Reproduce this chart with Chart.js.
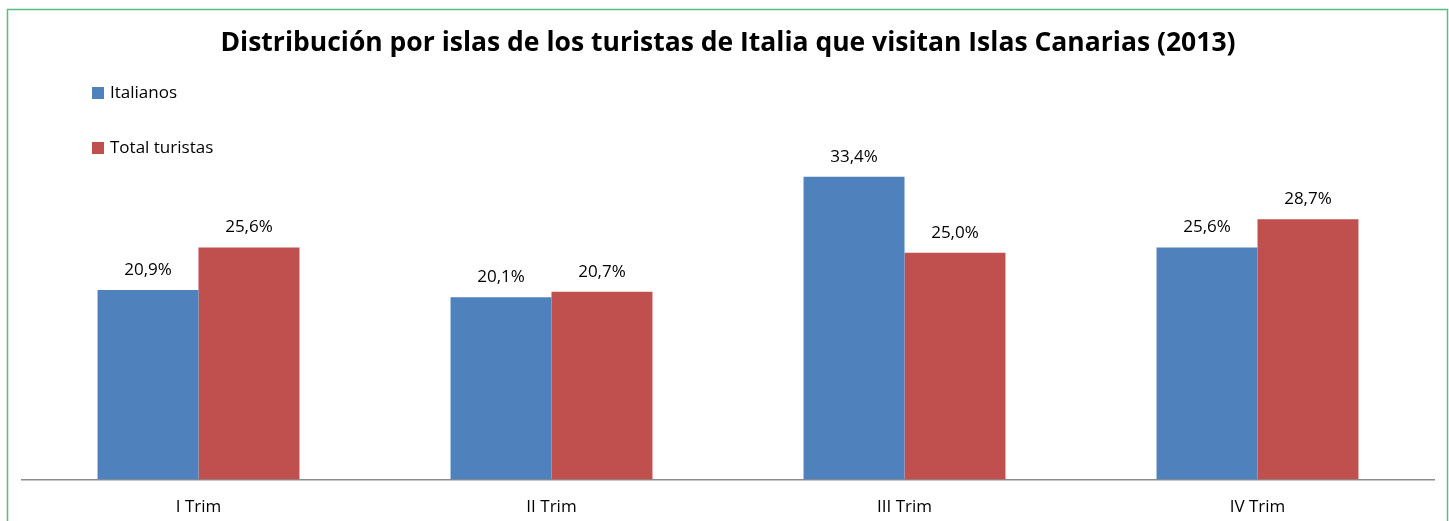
<!DOCTYPE html>
<html>
<head>
<meta charset="utf-8">
<script src="https://cdn.jsdelivr.net/npm/chart.js@4"></script>
<style>
  html, body { margin: 0; padding: 0; background: #fff; }
  #wrap { width: 1449px; height: 521px; }
</style>
</head>
<body>
<div id="wrap"><canvas id="chart" width="1449" height="521"></canvas></div>
<script>
const trimestres = ["I Trim", "II Trim", "III Trim", "IV Trim"];
const italianos = [20.9, 20.1, 33.4, 25.6];
const totalTuristas = [25.6, 20.7, 25.0, 28.7];
const seriesNames = ["Italianos", "Total turistas"];
const seriesColors = ["#4F81BD", "#C0504D"];

const FONT = "'Open Sans', Lato, sans-serif";

// frame round the whole chart
const framePlugin = {
  id: "frame",
  beforeDraw(chart) {
    const ctx = chart.ctx;
    ctx.save();
    ctx.fillStyle = "#fff";
    ctx.fillRect(0, 0, chart.width, chart.height);
    ctx.strokeStyle = "#55BF82";
    ctx.lineWidth = 1.5;
    ctx.strokeRect(7.5, 9.5, 1440, 560);
    ctx.restore();
  }
};

// legend drawn as a column at the left
const sideLegend = {
  id: "sideLegend",
  afterDraw(chart) {
    const ctx = chart.ctx;
    ctx.save();
    ctx.font = "17px " + FONT;
    ctx.textBaseline = "middle";
    chart.data.datasets.forEach((ds, i) => {
      const y = 93 + i * 55;
      ctx.fillStyle = ds.backgroundColor;
      ctx.fillRect(92, y - 6, 12, 12);
      ctx.fillStyle = "#000";
      ctx.fillText(ds.label, 110, y);
    });
    ctx.restore();
  }
};

// value labels above bars
const valueLabels = {
  id: "valueLabels",
  afterDatasetsDraw(chart) {
    const ctx = chart.ctx;
    ctx.save();
    ctx.font = "17px " + FONT;
    ctx.fillStyle = "#000";
    ctx.textAlign = "center";
    ctx.textBaseline = "middle";
    chart.data.datasets.forEach((ds, i) => {
      chart.getDatasetMeta(i).data.forEach((bar, j) => {
        const txt = ds.data[j].toFixed(1).replace(".", ",") + "%";
        ctx.fillText(txt, bar.x, bar.y - 20);
      });
    });
    ctx.restore();
  }
};

new Chart(document.getElementById("chart"), {
  type: "bar",
  data: {
    labels: trimestres,
    datasets: [
      { label: seriesNames[0], data: italianos, backgroundColor: seriesColors[0] },
      { label: seriesNames[1], data: totalTuristas, backgroundColor: seriesColors[1] }
    ]
  },
  options: {
    responsive: false,
    animation: false,
    events: [],
    layout: { padding: { left: 22, right: 15, top: 0, bottom: -13 } },
    datasets: {
      bar: { categoryPercentage: 0.572, barPercentage: 1, borderWidth: 0 }
    },
    plugins: {
      legend: { display: false },
      tooltip: { enabled: false },
      title: {
        display: true,
        text: "Distribución por islas de los turistas de Italia que visitan Islas Canarias (2013)",
        color: "#000",
        font: { family: FONT, size: 26.5, weight: "bold", lineHeight: 1.2 },
        padding: { top: 28, bottom: 57 }
      }
    },
    scales: {
      x: {
        grid: { display: false, drawTicks: false },
        border: { display: true, color: "#8C8C8C", width: 1.5 },
        ticks: { color: "#000", font: { family: FONT, size: 17 }, padding: 17 }
      },
      y: {
        display: false,
        min: 0,
        max: 40
      }
    }
  },
  plugins: [framePlugin, sideLegend, valueLabels]
});
</script>
</body>
</html>
